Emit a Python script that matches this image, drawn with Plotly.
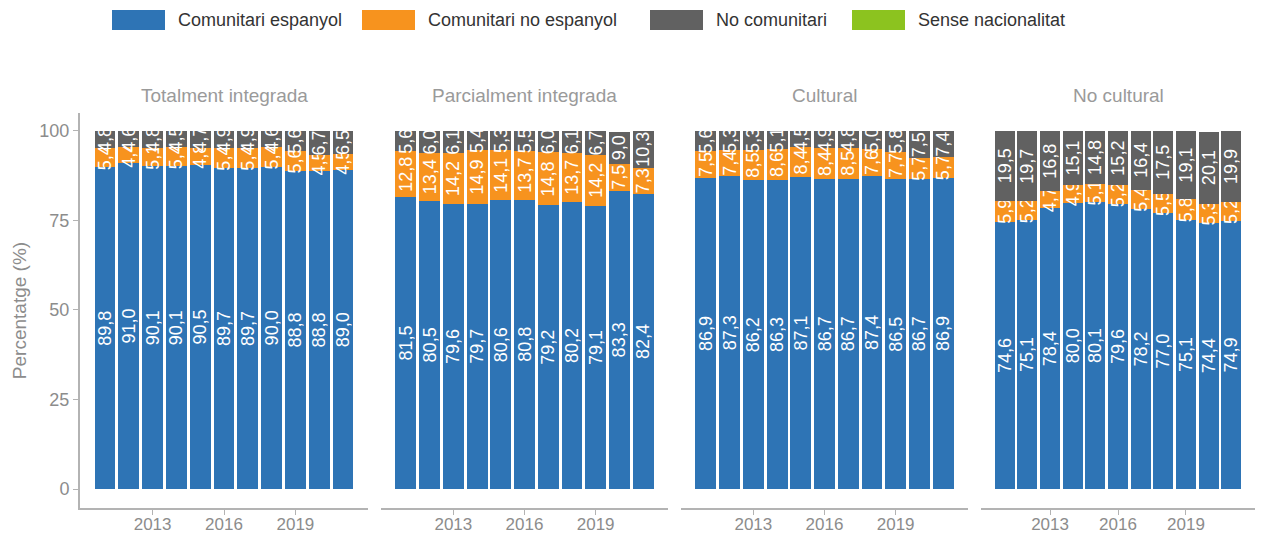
import plotly.graph_objects as go

years = list(range(2011, 2022))
panels = ["Totalment integrada", "Parcialment integrada", "Cultural", "No cultural"]
series = ["Comunitari espanyol", "Comunitari no espanyol", "No comunitari", "Sense nacionalitat"]
colors = ["#2E74B5", "#F7931E", "#616161", "#8CC31F"]

espanyol = [
    [89.8, 91.0, 90.1, 90.1, 90.5, 89.7, 89.7, 90.0, 88.8, 88.8, 89.0],
    [81.5, 80.5, 79.6, 79.7, 80.6, 80.8, 79.2, 80.2, 79.1, 83.3, 82.4],
    [86.9, 87.3, 86.2, 86.3, 87.1, 86.7, 86.7, 87.4, 86.5, 86.7, 86.9],
    [74.6, 75.1, 78.4, 80.0, 80.1, 79.6, 78.2, 77.0, 75.1, 74.4, 74.9],
]
no_espanyol = [
    [5.4, 4.4, 5.1, 5.4, 4.8, 5.4, 5.4, 5.4, 5.6, 4.5, 4.5],
    [12.8, 13.4, 14.2, 14.9, 14.1, 13.7, 14.8, 13.7, 14.2, 7.5, 7.3],
    [7.5, 7.4, 8.5, 8.6, 8.4, 8.4, 8.5, 7.6, 7.7, 5.7, 5.7],
    [5.9, 5.2, 4.7, 4.9, 5.1, 5.2, 5.4, 5.5, 5.8, 5.3, 5.2],
]
no_comunitari = [
    [4.8, 4.6, 4.8, 4.5, 4.7, 4.9, 4.9, 4.6, 5.6, 6.7, 6.5],
    [5.6, 6.0, 6.1, 5.4, 5.3, 5.5, 6.0, 6.1, 6.7, 9.0, 10.3],
    [5.6, 5.3, 5.3, 5.1, 4.5, 4.9, 4.8, 5.0, 5.8, 7.5, 7.4],
    [19.5, 19.7, 16.8, 15.1, 14.8, 15.2, 16.4, 17.5, 19.1, 20.1, 19.9],
]
sense = [
    [0.0] * 11,
    [0.0] * 11,
    [0.0] * 11,
    [0.0] * 11,
]
values = [espanyol, no_espanyol, no_comunitari, sense]

# page has an 8px body margin, so the figure is 16px smaller than the window
W, H = 1248, 527
ml, mr, mt, mb = 72, 1, 105, 27
pw = W - ml - mr
ph = H - mt - mb
doms = [(0, 288), (301, 588), (601, 888), (901, pw)]

fig = go.Figure()
font = "Liberation Sans, Arial, sans-serif"
grey = "#8c8c8c"
axis_grey = "#b3b3b3"

for p in range(4):
    xa = "x" if p == 0 else f"x{p+1}"
    for s in range(4):
        v = values[s][p]
        txt = [("%.1f" % x).replace(".", ",") if x >= 0.5 else "" for x in v]
        fig.add_trace(go.Bar(
            x=years, y=v, name=series[s], marker_color=colors[s],
            marker_line_width=0,
            text=txt, textposition="inside", textangle=-90,
            insidetextanchor="middle", constraintext="none",
            textfont=dict(color="white", size=18, family=font),
            xaxis=xa, yaxis="y", showlegend=False,
            hoverinfo="x+y+name",
        ))

layout = dict(
    width=W, height=H, barmode="stack", bargap=0.12,
    plot_bgcolor="white", paper_bgcolor="white",
    margin=dict(l=ml, r=mr, t=mt, b=mb, autoexpand=False),
    font=dict(family=font, color=grey, size=16),
    yaxis=dict(range=[-5.3, 105], tickvals=[0, 25, 50, 75, 100], showgrid=False,
               zeroline=False, showline=True, linecolor=axis_grey, linewidth=2,
               ticks="outside", ticklen=5, tickcolor=axis_grey, automargin=False,
               tickfont=dict(size=18, color=grey),
               title=dict(text="Percentatge (%)", font=dict(size=19, color=grey), standoff=8)),
)
annotations = []
shapes = []
for p in range(4):
    key = "xaxis" if p == 0 else f"xaxis{p+1}"
    layout[key] = dict(
        domain=[doms[p][0] / pw, doms[p][1] / pw], anchor="y",
        range=[2009.95, 2022.05], tickvals=[2013, 2016, 2019],
        showgrid=False, zeroline=False, showline=True, linecolor=axis_grey, linewidth=2,
        ticks="outside", ticklen=5, tickcolor=axis_grey, automargin=False,
        ticklabelstandoff=-5,
        tickfont=dict(size=17, color=grey),
    )
    annotations.append(dict(
        text=panels[p], x=(doms[p][0] + doms[p][1]) / 2 / pw, xref="paper", xanchor="center",
        y=1 + (mt - 87) / ph, yref="paper", yanchor="middle", showarrow=False,
        font=dict(size=19, color="#9a9a9a"),
    ))

# hand-drawn legend (pixel positions in the figure)
leg_box_x = [104, 354, 642, 844]
for s in range(4):
    x0 = leg_box_x[s]
    shapes.append(dict(type="rect", xref="paper", yref="paper",
                       x0=(x0 - ml) / pw, x1=(x0 + 53 - ml) / pw,
                       y0=1 + (mt - 22) / ph, y1=1 + (mt - 2) / ph,
                       fillcolor=colors[s], line_width=0))
    annotations.append(dict(
        text=series[s], xref="paper", yref="paper", x=(x0 + 64 - ml) / pw, xanchor="left",
        y=1 + (mt - 12) / ph, yanchor="middle", showarrow=False,
        font=dict(size=18, color="#333333"),
    ))
layout["annotations"] = annotations
layout["shapes"] = shapes
fig.update_layout(**layout)

fig.write_html("out.html")
